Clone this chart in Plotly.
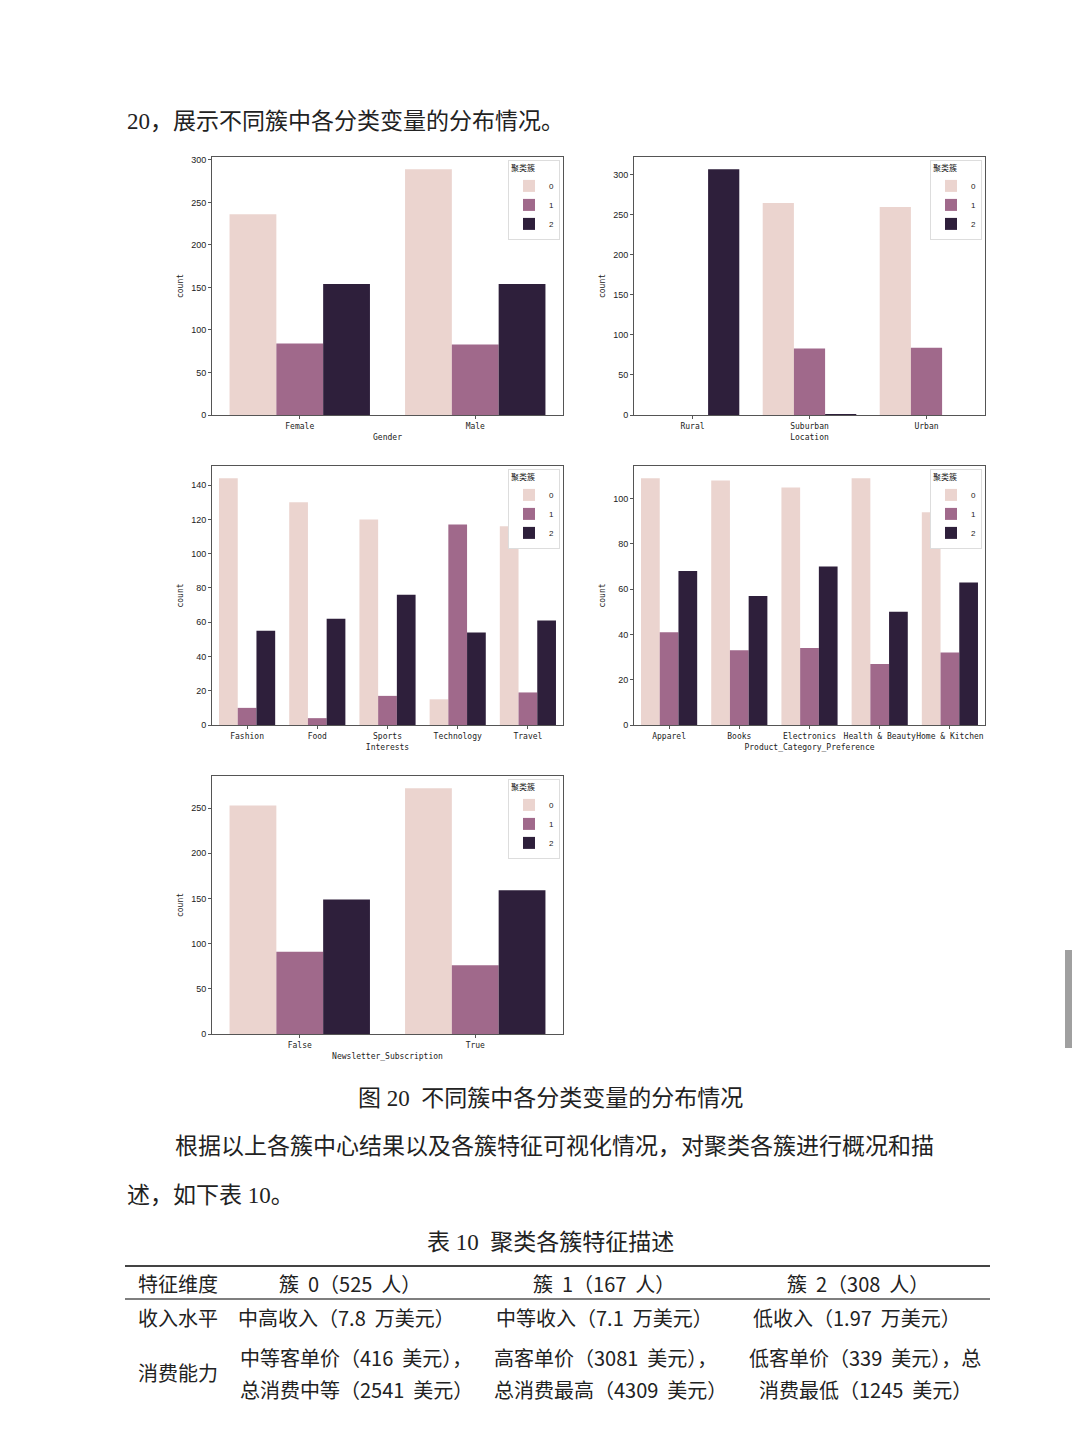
import plotly.graph_objects as go

# Page is rendered inside an 8px body margin, so the figure is 1072x1432
OFF = 8
W, H = 1072, 1432

clusters = ["0", "1", "2"]
cluster_colors = ["#ebd4cf", "#a0698b", "#2e1f3b"]

gender_cats = ["Female", "Male"]
gender_counts = [[236, 289], [84, 83], [154, 154]]

location_cats = ["Rural", "Suburban", "Urban"]
location_counts = [[0, 265, 260], [0, 83, 84], [307, 1, 0]]

interest_cats = ["Fashion", "Food", "Sports", "Technology", "Travel"]
interest_counts = [[144, 130, 120, 15, 116], [10, 4, 17, 117, 19], [55, 62, 76, 54, 61]]

product_cats = ["Apparel", "Books", "Electronics", "Health & Beauty", "Home & Kitchen"]
product_counts = [[109, 108, 105, 109, 94], [41, 33, 34, 27, 32], [68, 57, 70, 50, 63]]

news_cats = ["False", "True"]
news_counts = [[253, 272], [91, 76], [149, 159]]

panels = [
    ("Gender", gender_cats, gender_counts, 50, (212, 563, 157, 415)),
    ("Location", location_cats, location_counts, 50, (634, 985, 157, 415)),
    ("Interests", interest_cats, interest_counts, 20, (212, 563, 466, 725)),
    ("Product_Category_Preference", product_cats, product_counts, 20, (634, 985, 466, 725)),
    ("Newsletter_Subscription", news_cats, news_counts, 50, (212, 563, 776, 1034)),
]


def px(x):
    return (x - OFF) / W


def py(y):
    return 1 - (y - OFF) / H


fig = go.Figure()
layout = dict(
    width=W, height=H, margin=dict(l=0, r=0, t=0, b=0),
    paper_bgcolor="white", plot_bgcolor="white",
    barmode="group", bargap=0.2, bargroupgap=0,
    font=dict(family="Liberation Sans", color="#333"),
)

axis_line = dict(showline=True, linecolor="#555", linewidth=1, mirror=True,
                 ticks="outside", ticklen=3, tickcolor="#555", showgrid=False,
                 zeroline=False)

for i, (name, cats, counts, dtick, (x0, x1, y0, y1)) in enumerate(panels):
    k = "" if i == 0 else str(i + 1)
    legend_name = "legend" + k
    ymax = max(max(c) for c in counts) * 1.05
    for j, cl in enumerate(clusters):
        fig.add_trace(go.Bar(
            x=cats, y=counts[j], name=cl, marker=dict(color=cluster_colors[j], line=dict(width=0)),
            xaxis="x" + k, yaxis="y" + k, legend=legend_name, showlegend=True,
        ))
    layout["xaxis" + k] = dict(
        domain=[px(x0), px(x1)], anchor="y" + k, type="category", tickangle=0,
        tickfont=dict(family="DejaVu Sans Mono", size=8, color="#222"),
        title=dict(text=name, font=dict(family="DejaVu Sans Mono", size=8, color="#222"), standoff=4),
        automargin=False, **axis_line)
    layout["yaxis" + k] = dict(
        domain=[py(y1), py(y0)], anchor="x" + k, range=[0, ymax], dtick=dtick,
        tickfont=dict(family="Liberation Sans", size=9, color="#222"),
        title=dict(text="count", font=dict(family="DejaVu Sans Mono", size=8, color="#222"), standoff=6),
        automargin=False, **axis_line)
    layout[legend_name] = dict(
        x=px(x1 - 3), y=py(y0 + 3), xanchor="right", yanchor="top",
        bgcolor="white", bordercolor="#ddd", borderwidth=1,
        title=dict(text="聚类簇", font=dict(family="Noto Sans CJK SC", size=8, color="#222")),
        font=dict(family="Liberation Sans", size=8, color="#222"),
        itemwidth=30, tracegroupgap=0,
    )

fig.update_layout(**layout)

cjk = "Noto Sans CJK SC"
serif = "Liberation Serif, Noto Sans CJK SC"
texts = [
    ("20，展示不同簇中各分类变量的分布情况。", 125, 121, "left", 23, serif),
    ("图 20  不同簇中各分类变量的分布情况", 550, 1098, "center", 23, serif),
    ("根据以上各簇中心结果以及各簇特征可视化情况，对聚类各簇进行概况和描", 173, 1146, "left", 23, serif),
    ("述，如下表 10。", 125, 1195, "left", 23, serif),
    ("表 10  聚类各簇特征描述", 550, 1242, "center", 23, serif),
    ("特征维度", 136, 1283, "left", 20, cjk),
    ("簇  0（525  人）", 350, 1283, "center", 20, cjk),
    ("簇  1（167  人）", 604, 1283, "center", 20, cjk),
    ("簇  2（308  人）", 858, 1283, "center", 20, cjk),
    ("收入水平", 136, 1317, "left", 20, cjk),
    ("中高收入（7.8  万美元）", 346, 1317, "center", 20, cjk),
    ("中等收入（7.1  万美元）", 604, 1317, "center", 20, cjk),
    ("低收入（1.97  万美元）", 857, 1317, "center", 20, cjk),
    ("消费能力", 136, 1372, "left", 20, cjk),
    ("中等客单价（416  美元），", 238, 1357, "left", 20, cjk),
    ("总消费中等（2541  美元）", 238, 1389, "left", 20, cjk),
    ("高客单价（3081  美元），", 492, 1357, "left", 20, cjk),
    ("总消费最高（4309  美元）", 492, 1389, "left", 20, cjk),
    ("低客单价（339  美元），总", 747, 1357, "left", 20, cjk),
    ("消费最低（1245  美元）", 757, 1389, "left", 20, cjk),
]
for t, x, y, anchor, size, fam in texts:
    fig.add_annotation(text=t, x=px(x), y=py(y), xref="paper", yref="paper",
                       xanchor=anchor, yanchor="middle", showarrow=False,
                       font=dict(family=fam, size=size, color="#222"))

fig.add_shape(type="line", xref="paper", yref="paper", x0=px(125), x1=px(990),
              y0=py(1266), y1=py(1266), line=dict(color="#444", width=2))
fig.add_shape(type="line", xref="paper", yref="paper", x0=px(125), x1=px(990),
              y0=py(1299), y1=py(1299), line=dict(color="#555", width=1.5))
fig.add_shape(type="rect", xref="paper", yref="paper", x0=px(1065), x1=px(1072),
              y0=py(1048), y1=py(950), line=dict(width=0), fillcolor="#a0a0a0")

fig.write_html("out.html")
